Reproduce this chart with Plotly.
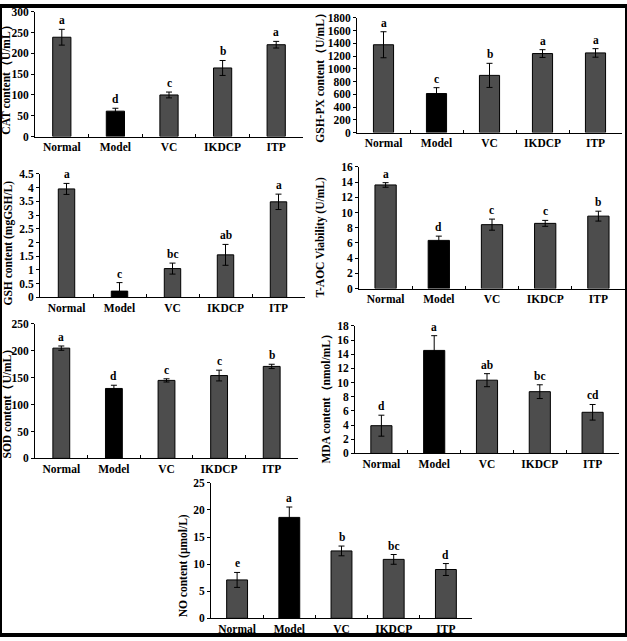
import plotly.graph_objects as go

categories = ["Normal", "Model", "VC", "IKDCP", "ITP"]

cat_values = [239, 61, 100, 165, 221]
cat_errors = [19, 7, 7, 18, 8]
cat_letters = ["a", "d", "c", "b", "a"]

gshpx_values = [1377, 612, 897, 1239, 1249]
gshpx_errors = [204, 92, 189, 61, 67]
gshpx_letters = ["a", "c", "b", "a", "a"]

gsh_values = [3.95, 0.23, 1.05, 1.55, 3.48]
gsh_errors = [0.2, 0.31, 0.2, 0.38, 0.28]
gsh_letters = ["a", "c", "bc", "ab", "a"]

taoc_values = [13.63, 6.34, 8.41, 8.58, 9.53]
taoc_errors = [0.3, 0.56, 0.73, 0.39, 0.65]
taoc_letters = ["a", "d", "c", "c", "b"]

sod_values = [205, 130, 145, 154, 171]
sod_errors = [4, 6, 3, 10, 4]
sod_letters = ["a", "d", "c", "c", "b"]

mda_values = [3.92, 14.54, 10.34, 8.72, 5.81]
mda_errors = [1.48, 2.08, 0.92, 0.97, 1.1]
mda_letters = ["d", "a", "ab", "bc", "cd"]

no_values = [7.09, 18.63, 12.44, 10.88, 9.01]
no_errors = [1.38, 1.92, 0.9, 0.9, 1.1]
no_letters = ["e", "a", "b", "bc", "d"]

W, H = 627, 641
FONT = "Liberation Serif"
GRAY = "#4d4d4d"

# (values, errors, letters, y title, y max, dtick, bar width,
#  plot box px: x0, x1, ytop, ybottom, title x px, title center y px)
panels = [
    (cat_values, cat_errors, cat_letters, "CAT content（U/mL）", 300, 50, 0.34,
     35, 303, 6, 133, 7, 73),
    (gshpx_values, gshpx_errors, gshpx_letters, "GSH-PX content（U/mL）", 1800, 200, 0.38,
     357, 622, 12, 129, 321, 71),
    (gsh_values, gsh_errors, gsh_letters, "GSH content (mgGSH/L)", 4.5, 0.5, 0.31,
     40, 305, 171, 297, 8, 242),
    (taoc_values, taoc_errors, taoc_letters, "T-AOC Viability (U/mL)", 16, 2, 0.40,
     359, 625, 164, 288, 321, 236),
    (sod_values, sod_errors, sod_letters, "SOD content（U/mL）", 250, 50, 0.32,
     35, 298, 324, 461, 7, 402),
    (mda_values, mda_errors, mda_letters, "MDA content（nmol/mL）", 18, 2, 0.40,
     355, 619, 326, 456, 327, 397),
    (no_values, no_errors, no_letters, "NO content (μmol/L)", 25, 5, 0.40,
     211, 472, 486, 624, 183, 571),
]

fig = go.Figure()
annotations = []
layout_axes = {}

for i, (vals, errs, letters, ytitle, ymax, dtick, bw,
        x0, x1, yt, yb, tx, ty) in enumerate(panels, start=1):
    xa = "x" if i == 1 else f"x{i}"
    ya = "y" if i == 1 else f"y{i}"
    colors = ["#000000" if c == "Model" else GRAY for c in categories]
    fig.add_trace(go.Bar(
        x=categories, y=vals, width=bw,
        marker=dict(color=colors, line=dict(color="black", width=1)),
        error_y=dict(type="data", array=errs, visible=True,
                     color="black", thickness=1, width=3),
        xaxis=xa, yaxis=ya, showlegend=False, hoverinfo="skip",
    ))
    xkey = "xaxis" if i == 1 else f"xaxis{i}"
    ykey = "yaxis" if i == 1 else f"yaxis{i}"
    layout_axes[xkey] = dict(
        domain=[x0 / W, x1 / W], anchor=ya, type="category",
        showline=True, linecolor="black", linewidth=1,
        ticks="inside", tickson="boundaries", ticklen=3, tickcolor="black",
        showgrid=False, zeroline=False,
        tickfont=dict(family=FONT, size=11.5, color="black", weight="bold"),
        range=[-0.5, 4.5],
    )
    layout_axes[ykey] = dict(
        domain=[1 - yb / H, 1 - yt / H], anchor=xa,
        range=[0, ymax], dtick=dtick, tick0=0,
        showline=True, linecolor="black", linewidth=1,
        ticks="outside", ticklen=3, tickcolor="black",
        showgrid=False, zeroline=False,
        tickfont=dict(family=FONT, size=11.5, color="black", weight="bold"),
    )
    for c, v, e, l in zip(categories, vals, errs, letters):
        annotations.append(dict(
            x=c, y=v + e, xref=xa, yref=ya, text=l, showarrow=False,
            yanchor="bottom", yshift=1,
            font=dict(family=FONT, size=11.5, color="black", weight="bold"),
        ))
    annotations.append(dict(
        x=tx / W, y=1 - ty / H, xref="paper", yref="paper", text=ytitle,
        textangle=-90, showarrow=False, xanchor="center", yanchor="middle",
        font=dict(family=FONT, size=11.5, color="black", weight="bold"),
    ))

fig.update_layout(
    width=W, height=H,
    margin=dict(l=0, r=0, t=0, b=0),
    paper_bgcolor="white", plot_bgcolor="white",
    annotations=annotations,
    shapes=[dict(type="rect", xref="paper", yref="paper", x0=0, x1=1, y0=0, y1=1,
                 line=dict(color="black", width=4))],
    bargap=0.6,
    **layout_axes,
)

fig.write_html(
    "out.html",
    config={"displayModeBar": False},
    post_script="document.body.style.margin='0px';document.body.style.overflow='hidden';",
)
